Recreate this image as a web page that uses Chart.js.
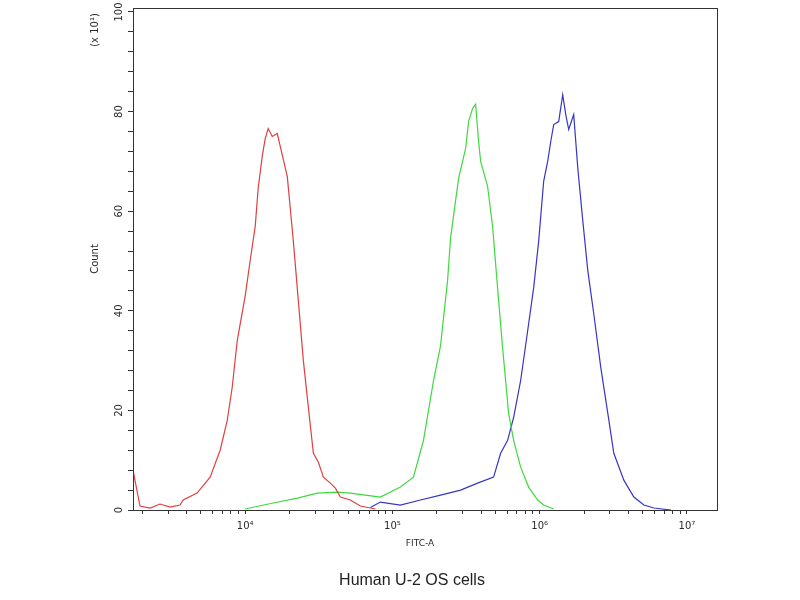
<!DOCTYPE html>
<html><head><meta charset="utf-8">
<script src="https://cdn.jsdelivr.net/npm/chart.js@4/dist/chart.umd.min.js"></script>
<style>html,body{margin:0;padding:0;background:#fff}#wrap{width:800px;height:600px}</style>
</head><body><div id="wrap"><canvas id="c" width="800" height="600"></canvas></div>
<script>
// FITC-A intensities and counts (x10^1)
const redX = [1730,1930,2260,2640,3090,3610,3790,4710,5780,6760,7550,8160,8830,10000,10800,11700,12250,13050,13680,14330,15270,16510,17300,19310,21230,22960,24830,26850,29040,31410,33970,37880,40960,44290,51760,60540,76560];
const redCount = [8,0.8,0.4,1.2,0.6,1.0,2,3.4,6.6,12,18,24.6,34,43,50,57,64.6,71,74.6,76.6,75,75.6,73,67,54,42,30,20.6,11.4,9.6,6.6,5.4,4.4,2.6,2,0.8,0.2];
const greenX = [10000,15490,22590,30900,42270,51760,65460,82790,113200,138900,162500,190100,212200,236700,248100,281300,314000,328900,349900,367200,384600,397200,442600,478600,517600,559800,615200,665300,742500,841300,968500,1064000,1245000];
const greenCount = [0.2,1.4,2.4,3.4,3.6,3.4,3.0,2.6,4.6,6.6,14,26,33,46,54.6,66.6,72.6,78,80.6,81.5,74,70,65,57,44.6,32.6,19.4,14,8.6,4.6,2,1,0.2];
const blueX = [70800,82790,113200,154900,212200,290400,378500,486300,542900,605800,665300,742500,828600,909800,984400,1064000,1133000,1189000,1245000,1346000,1433000,1503000,1574000,1702000,1815000,1963000,2123000,2329000,2600000,2902000,3187000,3727000,4359000,5098000,5966000,7784000];
const blueCount = [0.5,1.6,1,2,3,4,5.4,6.6,11.4,14,18.6,26,36,44.6,54,66,70,74,77.4,78,83.4,79.4,76.4,79.4,68.6,58,48,39.4,28.6,19.4,11.4,6,2.6,1,0.4,0];
const yTickLabels = [0,20,40,60,80,100];
const xTickLabels = {4:'10\u2074',5:'10\u2075',6:'10\u2076',7:'10\u2077'};
const xTitle = 'FITC-A';
const yTitle = 'Count';
const yMult = '(x 10\u00B9)';
const caption = 'Human U-2 OS cells';

const pts = (xs, ys) => xs.map((x, i) => ({x: x, y: ys[i]}));

const textPlugin = {
  id: 'texts',
  afterDraw(chart) {
    const ctx = chart.ctx, a = chart.chartArea, ys = chart.scales.y;
    ctx.save();
    ctx.strokeStyle = '#333'; ctx.lineWidth = 1;
    ctx.strokeRect(a.left + 0.5, a.top + 0.5, a.right - a.left, a.bottom - a.top);
    ctx.fillStyle = '#2a2a2a';
    ctx.font = '10px "DejaVu Sans"';
    ctx.textAlign = 'center'; ctx.textBaseline = 'middle';
    yTickLabels.forEach(v => {
      const y = ys.getPixelForValue(v);
      ctx.save(); ctx.translate(119, y); ctx.rotate(-Math.PI / 2); ctx.fillText(String(v), 0, 0); ctx.restore();
    });
    ctx.save(); ctx.translate(95, (a.top + a.bottom) / 2); ctx.rotate(-Math.PI / 2); ctx.fillText(yTitle, 0, 0); ctx.restore();
    ctx.save(); ctx.translate(95, 30); ctx.rotate(-Math.PI / 2); ctx.fillText(yMult, 0, 0); ctx.restore();
    ctx.font = '9px "DejaVu Sans"';
    ctx.fillText(xTitle, 420, 544);
    ctx.font = '16px "Liberation Sans"';
    ctx.fillStyle = '#222';
    ctx.fillText(caption, 412, 581);
    ctx.restore();
  }
};

new Chart(document.getElementById('c'), {
  type: 'line',
  data: {
    datasets: [
      {label: 'red', data: pts(redX, redCount), borderColor: '#e04040'},
      {label: 'green', data: pts(greenX, greenCount), borderColor: '#3fd83f'},
      {label: 'blue', data: pts(blueX, blueCount), borderColor: '#3535c8'}
    ]
  },
  options: {
    responsive: false, animation: false,
    layout: {padding: {top: 8, right: 83, left: 0, bottom: 0}},
    elements: {line: {borderWidth: 1.2, tension: 0, fill: false}, point: {radius: 0}},
    plugins: {legend: {display: false}, tooltip: {enabled: false}},
    scales: {
      x: {
        type: 'logarithmic', min: 1730, max: 1.6e7,
        afterFit(s) { s.height = 90; },
        afterBuildTicks(s) {
          const t = [];
          for (let n = 3; n <= 7; n++) for (let k = 1; k <= 9; k++) {
            const v = k * Math.pow(10, n);
            if (v >= s.min && v <= s.max) t.push({value: v});
          }
          s.ticks = t;
        },
        grid: {drawOnChartArea: false, drawTicks: true, tickLength: 4, color: '#333'},
        border: {color: '#333'},
        ticks: {
          autoSkip: false, maxRotation: 0, minRotation: 0, padding: 6,
          color: '#2a2a2a', font: {family: 'DejaVu Sans', size: 10},
          callback(v) {
            const l = Math.log10(v);
            return Math.abs(l - Math.round(l)) < 1e-9 && xTickLabels[Math.round(l)] ? xTickLabels[Math.round(l)] : '';
          }
        }
      },
      y: {
        min: 0, max: 100.8,
        afterFit(s) { s.width = 133; },
        afterBuildTicks(s) {
          const t = [];
          for (let v = 0; v <= 100; v += 4) t.push({value: v});
          s.ticks = t;
        },
        grid: {drawOnChartArea: false, drawTicks: true, tickLength: 5, color: '#333'},
        border: {color: '#333'},
        ticks: {display: false}
      }
    }
  },
  plugins: [textPlugin]
});
</script>
</body></html>
